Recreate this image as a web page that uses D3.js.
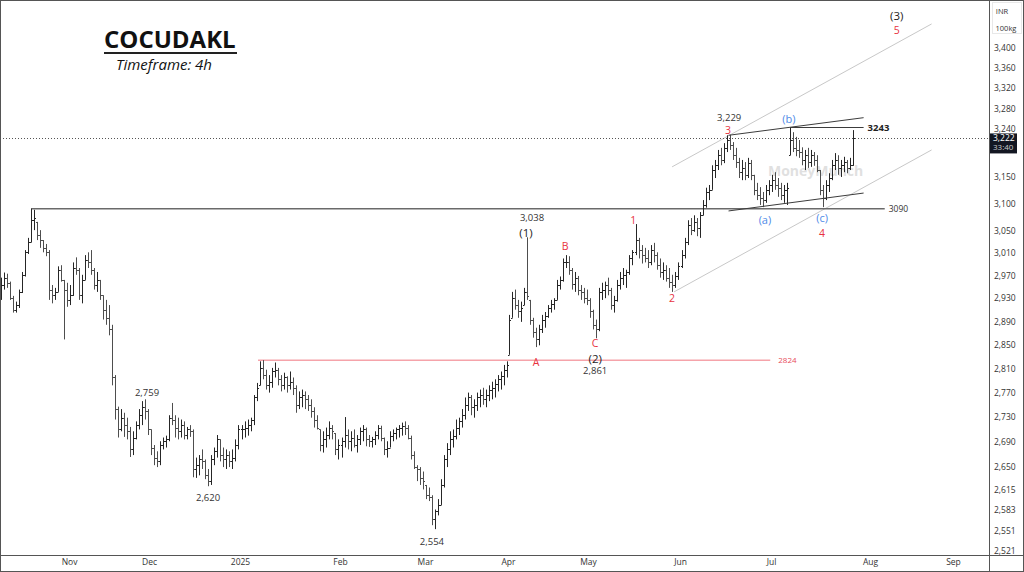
<!DOCTYPE html>
<html>
<head>
<meta charset="utf-8">
<title>COCUDAKL 4h</title>
<script src="https://cdnjs.cloudflare.com/ajax/libs/d3/7.8.5/d3.min.js"></script>
<style>
    html, body { margin: 0; padding: 0; background: #fff; }
    #chart-area { width: 1024px; height: 572px; }
    text { font-family: "Open Sans", "DejaVu Sans", sans-serif; }
</style>
</head>
<body>
<div id="chart-area"></div>
<script>

// ---- values (INR / 100kg) ----
let firstOpen = 2950;

// one bar = [high, low, close]; open is taken from the previous close
let barsOct = [[2966,2927,2953],[2975,2945,2966],[2973,2948,2957],[2959,2927,2930],[2934,2905,2910],[2924,2905,2918],[2945,2913,2941],[2976,2939,2971],[3015,2968,3011],[3037,3008,3029],[3090,3029,3069],[3088,3051,3073],[3066,3033,3042],[3051,3019,3033],[3033,3011,3019],[3026,3004,3011],[3015,2927,2945],[2953,2921,2935],[2948,2927,2941],[2986,2941,2980],[2988,2959,2962],[2962,2859,2945],[2957,2915,2927]];
let barsNov = [[2953,2918,2935],[2993,2934,2983],[3002,2971,2980],[2983,2927,2935],[2971,2921,2962],[3006,2962,2997],[3011,2983,2993],[3015,2971,2980],[2983,2945,2953],[2976,2941,2962],[2962,2927,2935],[2935,2893,2910],[2927,2884,2896],[2918,2866,2876],[2884,2782,2795],[2799,2726,2743],[2747,2697,2710],[2743,2707,2729],[2737,2698,2717],[2729,2694,2707],[2714,2666,2678],[2707,2669,2697],[2723,2694,2717],[2743,2710,2733],[2756,2717,2746],[2759,2726,2740],[2743,2701,2710]];
let barsDec = [[2710,2669,2681],[2685,2653,2665],[2675,2650,2659],[2691,2653,2685],[2697,2678,2691],[2700,2681,2694],[2733,2691,2729],[2753,2717,2726],[2733,2697,2713],[2729,2694,2707],[2726,2697,2717],[2723,2694,2701],[2714,2694,2710],[2717,2698,2707],[2710,2634,2647],[2665,2633,2653],[2669,2637,2662],[2678,2647,2659],[2662,2631,2637],[2647,2620,2628],[2669,2622,2662],[2681,2653,2675],[2701,2665,2694],[2694,2659,2669],[2681,2650,2662],[2678,2647,2669],[2675,2650,2659],[2678,2647,2665],[2694,2659,2685],[2717,2678,2710]];
let barsJan = [[2717,2694,2710],[2723,2697,2713],[2726,2700,2717],[2729,2707,2726],[2766,2717,2762],[2786,2756,2778],[2822,2782,2811],[2824,2792,2799],[2808,2775,2782],[2799,2770,2788],[2811,2778,2805],[2820,2795,2808],[2811,2782,2792],[2799,2772,2782],[2803,2775,2795],[2797,2770,2782],[2805,2775,2788],[2795,2766,2778],[2782,2737,2750],[2772,2743,2762],[2775,2746,2766],[2772,2743,2759],[2766,2740,2750],[2759,2729,2740],[2746,2713,2726],[2733,2710,2713],[2710,2675,2685],[2707,2673,2694],[2713,2681,2701],[2723,2694,2713],[2717,2694,2707],[2704,2669,2678],[2694,2662,2685]];
let barsFeb = [[2697,2665,2691],[2730,2681,2701],[2710,2678,2691],[2707,2675,2697],[2710,2681,2685],[2701,2673,2694],[2713,2685,2707],[2717,2691,2710],[2713,2683,2694],[2701,2682,2691],[2698,2681,2694],[2707,2685,2701],[2717,2694,2713],[2716,2691,2697],[2697,2669,2678],[2691,2665,2681],[2707,2681,2700],[2710,2691,2705],[2713,2694,2710],[2717,2697,2713],[2721,2700,2716],[2723,2701,2713],[2717,2694,2697],[2700,2662,2669],[2675,2647,2650],[2653,2628,2647],[2650,2622,2633],[2643,2615,2628]];
let barsMar = [[2622,2600,2606],[2618,2597,2603],[2606,2560,2569],[2584,2554,2581],[2600,2575,2591],[2631,2591,2622],[2669,2618,2662],[2688,2650,2678],[2707,2669,2694],[2710,2681,2700],[2726,2694,2713],[2729,2701,2723],[2743,2713,2733],[2762,2726,2750],[2770,2740,2762],[2766,2733,2746],[2759,2729,2750],[2770,2740,2762],[2775,2746,2766],[2778,2750,2759],[2775,2746,2766],[2782,2756,2775],[2788,2759,2778],[2792,2762,2785],[2799,2772,2792],[2805,2775,2797],[2816,2782,2808],[2822,2795,2816]];
let barsApr = [[2901,2833,2893],[2941,2896,2930],[2945,2910,2918],[2927,2896,2907],[2924,2889,2913],[2948,2918,2941],[3038,2927,2934],[2927,2884,2893],[2896,2862,2872],[2879,2846,2859],[2884,2849,2876],[2901,2870,2893],[2906,2879,2899],[2918,2896,2913],[2927,2905,2920],[2930,2910,2927],[2962,2927,2953],[2968,2945,2962],[3000,2959,2993],[3006,2983,2993],[3004,2971,2980],[2983,2945,2955],[2976,2941,2966],[2969,2935,2945],[2953,2927,2941],[2948,2921,2930],[2945,2918,2927]];
let barsMay = [[2930,2896,2907],[2910,2876,2884],[2893,2861,2876],[2948,2873,2941],[2957,2927,2945],[2959,2930,2953],[2966,2935,2945],[2948,2910,2918],[2934,2905,2927],[2962,2924,2953],[2976,2945,2966],[2983,2953,2971],[2980,2948,2976],[3006,2971,3000],[3015,2988,3011],[3062,3006,3033],[3037,3000,3015],[3024,2991,3006],[3019,2993,3000],[3015,2983,2993],[3024,2988,3015],[3028,2993,3006],[3011,2980,2988],[3000,2966,2976],[2993,2962,2980],[2988,2959,2966],[2983,2948,2959],[2971,2941,2953],[2976,2948,2969],[2993,2962,2986]];
let barsJun = [[3015,2983,3006],[3037,3000,3029],[3069,3024,3060],[3073,3042,3051],[3078,3048,3066],[3073,3040,3055],[3084,3037,3078],[3106,3078,3097],[3129,3092,3121],[3134,3106,3125],[3171,3125,3162],[3181,3147,3171],[3200,3162,3190],[3204,3171,3181],[3213,3175,3204],[3228,3196,3219],[3229,3200,3209],[3215,3181,3190],[3204,3166,3177],[3185,3147,3158],[3181,3143,3166],[3177,3143,3153],[3185,3147,3175],[3181,3143,3153],[3153,3115,3125],[3138,3106,3115],[3130,3097,3110],[3121,3093,3106],[3134,3101,3125],[3143,3115,3134]];
let barsJul = [[3153,3121,3143],[3158,3125,3134],[3147,3112,3129],[3138,3106,3115],[3134,3101,3125],[3138,3097,3129],[3243,3190,3219],[3234,3196,3204],[3225,3188,3200],[3219,3185,3196],[3205,3171,3181],[3200,3162,3190],[3204,3166,3177],[3200,3168,3190],[3196,3170,3181],[3190,3158,3162],[3162,3115,3125],[3134,3093,3110],[3143,3106,3134],[3156,3121,3147],[3181,3143,3171],[3194,3162,3181],[3190,3153,3166],[3181,3149,3171],[3187,3158,3177],[3181,3156,3166],[3185,3162,3171],[3238,3170,3222]];

let monthBars = [barsOct, barsNov, barsDec, barsJan, barsFeb, barsMar, barsApr, barsMay, barsJun, barsJul];
let monthSpans = [["2024-10-06","2024-11-01"],["2024-11-01","2024-12-01"],["2024-12-01","2025-01-01"],["2025-01-01","2025-02-01"],["2025-02-01","2025-03-01"],["2025-03-01","2025-04-01"],["2025-04-01","2025-05-01"],["2025-05-01","2025-06-01"],["2025-06-01","2025-07-01"],["2025-07-01","2025-07-27"]];

let monthTickDates = ["2024-11-01","2024-12-01","2025-01-01","2025-02-01","2025-03-01","2025-04-01","2025-05-01","2025-06-01","2025-07-01","2025-08-01","2025-09-01"];
let monthTickLabels = ["Nov","Dec","2025","Feb","Mar","Apr","May","Jun","Jul","Aug","Sep"];
let priceTicks = [3400,3360,3320,3280,3240,3150,3100,3050,3010,2970,2930,2890,2850,2810,2770,2730,2690,2650,2615,2583,2551,2521];

let lastPrice = 3222;
let countdown = "33:40";

// drawn levels and trend lines: [date, price] end points
let level3090 = [["2024-10-17 18", 3090], ["2025-08-06 12", 3090]];
let level2824 = [["2025-01-06 14", 2824], ["2025-06-30 18", 2824]];
let level3243 = [["2025-07-07 00", 3243], ["2025-07-30 00", 3243]];
let triangleTop = [["2025-06-17 00", 3228], ["2025-07-30 00", 3262]];
let triangleBottom = [["2025-06-17 00", 3086], ["2025-07-30 00", 3119]];
let channelTop = [["2025-05-29 08", 3168], ["2025-08-24 00", 3449]];
let channelBottom = [["2025-05-30 00", 2941], ["2025-08-24 00", 3200]];

// wave counts and swing prices
let waveLabels = [
    {text: "3,038", date: "2025-04-10 00", price: 3067, kind: "price"},
    {text: "(1)", date: "2025-04-07 18", price: 3038, kind: "major"},
    {text: "B", date: "2025-04-22 10", price: 3015, kind: "red"},
    {text: "A", date: "2025-04-11 12", price: 2815, kind: "red"},
    {text: "C", date: "2025-05-03 10", price: 2846, kind: "red"},
    {text: "(2)", date: "2025-05-03 10", price: 2820, kind: "major"},
    {text: "2,861", date: "2025-05-03 10", price: 2800, kind: "price"},
    {text: "1", date: "2025-05-16 05", price: 3062, kind: "red"},
    {text: "2", date: "2025-05-29 08", price: 2924, kind: "red"},
    {text: "3,229", date: "2025-06-17 05", price: 3256, kind: "price"},
    {text: "3", date: "2025-06-16 20", price: 3231, kind: "red"},
    {text: "(b)", date: "2025-07-06 14", price: 3251, kind: "blue"},
    {text: "(a)", date: "2025-06-29 00", price: 3062, kind: "blue"},
    {text: "(c)", date: "2025-07-17 00", price: 3066, kind: "blue"},
    {text: "4", date: "2025-07-17 00", price: 3038, kind: "red"},
    {text: "(3)", date: "2025-08-11 00", price: 3458, kind: "major"},
    {text: "5", date: "2025-08-11 00", price: 3429, kind: "red"},
    {text: "2,759", date: "2024-11-30 06", price: 2765, kind: "price"},
    {text: "2,620", date: "2024-12-21 03", price: 2597, kind: "price"},
    {text: "2,554", date: "2025-03-03 14", price: 2530, kind: "price"}
];


class OhlcChart {

    constructor(parentElement) {
        this.parentElement = parentElement;
        this.displayData = [];
        this.initVis();
    }

    initVis() {
        let vis = this;

        vis.width = 1024;
        vis.height = 572;
        vis.plotW = 989;   // price scale column starts here
        vis.plotH = 555;   // time scale strip starts here

        vis.svg = d3.select("#" + vis.parentElement).append("svg")
            .attr("width", vis.width)
            .attr("height", vis.height);

        vis.svg.append("defs").append("clipPath")
            .attr("id", "plot-clip")
            .append("rect")
            .attr("width", vis.plotW)
            .attr("height", vis.plotH);

        vis.parseDay = d3.timeParse("%Y-%m-%d");
        vis.parseHour = d3.timeParse("%Y-%m-%d %H");

        // tradingview spaces by bars, so month widths differ: polylinear time scale
        vis.x = d3.scaleTime()
            .domain(monthTickDates.map(d => vis.toDate(d)))
            .range([69, 149, 240, 340, 425, 508, 588, 680, 771, 870, 953]);

        vis.y = d3.scaleLog()
            .domain([2521, 3400])
            .range([551, 48]);

        vis.plot = vis.svg.append("g").attr("clip-path", "url(#plot-clip)");

        vis.wrangleData();
    }

    toDate(s) {
        return s.length > 10 ? this.parseHour(s) : this.parseDay(s);
    }

    wrangleData() {
        let vis = this;

        // spread each month's bars evenly over its span
        let prevClose = firstOpen;
        monthBars.forEach((bars, m) => {
            let start = vis.toDate(monthSpans[m][0]);
            let end = vis.toDate(monthSpans[m][1]);
            let step = (end - start) / bars.length;
            bars.forEach((b, i) => {
                vis.displayData.push({
                    date: new Date(+start + (i + 0.5) * step),
                    open: Math.max(b[1], Math.min(b[0], prevClose)),
                    high: b[0],
                    low: b[1],
                    close: b[2]
                });
                prevClose = b[2];
            });
        });

        vis.updateVis();
    }

    linePath(pts) {
        let vis = this;
        return d3.line()
            .x(p => vis.x(vis.toDate(p[0])))
            .y(p => vis.y(p[1]))(pts);
    }

    updateVis() {
        let vis = this;

        // channel (light grey)
        [channelTop, channelBottom].forEach(pts => {
            vis.plot.append("path")
                .attr("d", vis.linePath(pts))
                .attr("fill", "none")
                .attr("stroke", "#c8c8c8")
                .attr("stroke-width", 1);
        });

        // horizontal levels
        vis.plot.append("path")
            .attr("d", vis.linePath(level3090))
            .attr("fill", "none")
            .attr("stroke", "#6a6a6a")
            .attr("stroke-width", 1.5);

        vis.plot.append("path")
            .attr("d", vis.linePath(level2824))
            .attr("fill", "none")
            .attr("stroke", "#f5a3aa")
            .attr("stroke-width", 1.5);

        // last price dotted line
        vis.plot.append("line")
            .attr("x1", 0)
            .attr("x2", vis.plotW)
            .attr("y1", Math.round(vis.y(lastPrice)) + 0.5)
            .attr("y2", Math.round(vis.y(lastPrice)) + 0.5)
            .attr("stroke", "#555")
            .attr("stroke-dasharray", "1,2");

        // watermark
        vis.plot.append("text")
            .attr("x", vis.x(vis.toDate("2025-06-30 00")))
            .attr("y", vis.y(3150))
            .attr("font-size", "14px")
            .attr("font-weight", "bold")
            .attr("fill", "#9a9a9a")
            .attr("opacity", 0.3)
            .text("MoneyMunch");

        // OHLC bars
        vis.plot.selectAll(".bar")
            .data(vis.displayData)
            .enter().append("path")
            .attr("class", "bar")
            .attr("d", d => {
                let x = Math.round(vis.x(d.date)) + 0.5;
                let yo = Math.round(vis.y(d.open)) + 0.5;
                let yc = Math.round(vis.y(d.close)) + 0.5;
                return "M" + x + "," + vis.y(d.high) + "V" + vis.y(d.low) +
                    "M" + (x - 1.5) + "," + yo + "H" + x +
                    "M" + x + "," + yc + "H" + (x + 1.5);
            })
            .attr("fill", "none")
            .attr("stroke", d => d.close >= d.open ? "#262626" : "#4e4e4e")
            .attr("stroke-width", 1);

        // triangle around (a)(b)(c)
        [triangleTop, triangleBottom, level3243].forEach(pts => {
            vis.plot.append("path")
                .attr("d", vis.linePath(pts))
                .attr("fill", "none")
                .attr("stroke", "#3c3c3c")
                .attr("stroke-width", 1);
        });

        // level labels
        let x3090 = vis.x(vis.toDate(level3090[1][0]));
        vis.plot.append("text")
            .attr("x", x3090 + 4)
            .attr("y", vis.y(3090) + 3)
            .attr("font-size", "8.5px")
            .attr("fill", "#333")
            .text("3090");

        let x2824 = vis.x(vis.toDate(level2824[1][0]));
        vis.plot.append("text")
            .attr("x", x2824 + 8)
            .attr("y", vis.y(2824) + 3)
            .attr("font-size", "8px")
            .attr("fill", "#e84c5a")
            .text("2824");

        let x3243 = vis.x(vis.toDate(level3243[1][0]));
        vis.plot.append("text")
            .attr("x", x3243 + 4)
            .attr("y", vis.y(3243) + 3)
            .attr("font-size", "9.5px")
            .attr("font-weight", "bold")
            .attr("fill", "#222")
            .text("3243");

        // wave labels
        let styles = {
            price: {size: "9.5px", fill: "#333"},
            major: {size: "11.5px", fill: "#1e1e1e"},
            red: {size: "10.5px", fill: "#e8333f"},
            blue: {size: "11px", fill: "#4f8be8"}
        };
        vis.plot.selectAll(".wave")
            .data(waveLabels)
            .enter().append("text")
            .attr("class", "wave")
            .attr("x", d => vis.x(vis.toDate(d.date)))
            .attr("y", d => vis.y(d.price))
            .attr("text-anchor", "middle")
            .attr("font-size", d => styles[d.kind].size)
            .attr("fill", d => styles[d.kind].fill)
            .text(d => d.text);

        // title block
        vis.svg.append("text")
            .attr("x", 104)
            .attr("y", 48)
            .attr("font-size", "24px")
            .attr("font-weight", "bold")
            .attr("fill", "#111")
            .text("COCUDAKL");

        vis.svg.append("line")
            .attr("x1", 104).attr("x2", 237)
            .attr("y1", 53).attr("y2", 53)
            .attr("stroke", "#222")
            .attr("stroke-width", 2);

        vis.svg.append("text")
            .attr("x", 116)
            .attr("y", 70)
            .attr("font-size", "15px")
            .attr("font-style", "italic")
            .attr("fill", "#111")
            .text("Timeframe: 4h");

        // axes
        vis.yAxis = d3.axisRight(vis.y)
            .tickValues(priceTicks)
            .tickSize(0)
            .tickPadding(5)
            .tickFormat(d3.format(","));

        vis.svg.append("g")
            .attr("class", "y-axis axis")
            .attr("transform", "translate(" + vis.plotW + ",0)")
            .call(vis.yAxis)
            .call(g => g.select(".domain").remove())
            .selectAll("text")
            .attr("font-size", "8.5px")
            .attr("fill", "#333");

        vis.xAxis = d3.axisBottom(vis.x)
            .tickValues(monthTickDates.map(d => vis.toDate(d)))
            .tickFormat((d, i) => monthTickLabels[i])
            .tickSize(0)
            .tickPadding(4);

        vis.svg.append("g")
            .attr("class", "x-axis axis")
            .attr("transform", "translate(0," + vis.plotH + ")")
            .call(vis.xAxis)
            .call(g => g.select(".domain").remove())
            .selectAll("text")
            .attr("font-size", "8.5px")
            .attr("fill", "#333");

        // unit box on top of the price scale
        vis.svg.append("rect")
            .attr("x", 992.5).attr("y", 2.5)
            .attr("width", 29).attr("height", 31)
            .attr("fill", "none")
            .attr("stroke", "#d0d0d0")
            .attr("stroke-dasharray", "1,1");
        vis.svg.append("text")
            .attr("x", 1002).attr("y", 14)
            .attr("text-anchor", "middle")
            .attr("font-size", "7.5px")
            .attr("fill", "#333")
            .text("INR");
        vis.svg.append("text")
            .attr("x", 1006).attr("y", 31)
            .attr("text-anchor", "middle")
            .attr("font-size", "7.5px")
            .attr("fill", "#333")
            .text("100kg");

        // last price tag
        let yLast = vis.y(lastPrice);
        vis.svg.append("rect")
            .attr("x", vis.plotW).attr("y", yLast - 5)
            .attr("width", 28).attr("height", 20)
            .attr("fill", "#131722");
        vis.svg.append("text")
            .attr("x", vis.plotW + 4).attr("y", yLast + 3)
            .attr("font-size", "8.5px")
            .attr("fill", "#fff")
            .text(d3.format(",")(lastPrice));
        vis.svg.append("text")
            .attr("x", vis.plotW + 4).attr("y", yLast + 12)
            .attr("font-size", "8px")
            .attr("fill", "#ccc")
            .text(countdown);

        // frame
        vis.svg.append("line")
            .attr("x1", vis.plotW + 0.5).attr("x2", vis.plotW + 0.5)
            .attr("y1", 0).attr("y2", vis.height)
            .attr("stroke", "#555");
        vis.svg.append("line")
            .attr("x1", 0).attr("x2", vis.width)
            .attr("y1", vis.plotH + 0.5).attr("y2", vis.plotH + 0.5)
            .attr("stroke", "#555");
        vis.svg.append("rect")
            .attr("x", 0.5).attr("y", 0.5)
            .attr("width", vis.width - 1).attr("height", vis.height - 1)
            .attr("fill", "none")
            .attr("stroke", "#555");
    }
}

let chart = new OhlcChart("chart-area");

</script>
</body>
</html>
